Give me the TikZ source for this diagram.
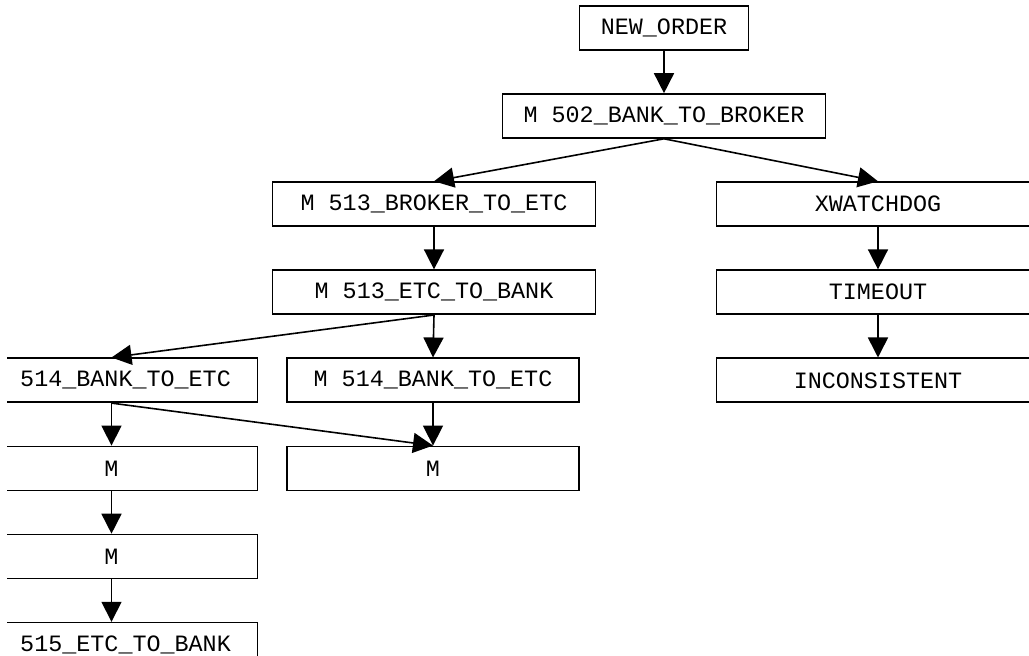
\documentclass[tikz,border=0pt]{standalone}
\usepackage{fontspec}
\usepackage{tikz}
\usetikzlibrary{arrows.meta,positioning}
\newfontfamily\statefont{Liberation Mono}

\begin{document}
\begin{tikzpicture}[
  x=0.5pt,y=-0.5pt,
  state/.style={draw,line width=0.8pt,inner sep=0pt,minimum height=22pt,
                font={\statefont\fontsize{11.7pt}{14pt}\selectfont}},
  wide/.style={state,minimum width=161.5pt},
  narrow/.style={state,minimum width=146pt},
  arr/.style={-{Triangle[length=10pt,width=10pt]},line width=0.8pt},
  node distance=21.25pt
]
\useasboundingbox (0,0) rectangle (1029,656);
\clip (7,0) rectangle (1029,656);
\node[wide] (m502) at (664,116) {M 502\_BANK\_TO\_BROKER};
\node[state,minimum width=84.5pt,above=of m502] (neworder) {NEW\_ORDER};
\node[wide,below=of m502,xshift=-115pt] (m513b) {M 513\_BROKER\_TO\_ETC};
\node[wide,below=of m513b] (m513e) {M 513\_ETC\_TO\_BANK};
\node[wide,below=of m502,xshift=107pt] (watchdog) {XWATCHDOG};
\node[wide,below=of watchdog] (timeout) {TIMEOUT};
\node[wide,below=of timeout] (inconsistent) {INCONSISTENT};
\node[narrow,below=of m513e,xshift=-0.5pt] (m514) {M 514\_BANK\_TO\_ETC};
\node[narrow,below=of m514] (mright) {M};
\node[narrow,below=of m513e,xshift=-161.25pt] (b514) {\hphantom{M\ }514\_BANK\_TO\_ETC};
\node[narrow,below=of b514] (mleft) {M};
\node[narrow,below=of mleft] (mlower) {M};
\node[narrow,below=of mlower] (e515) {\hphantom{M\ }515\_ETC\_TO\_BANK};
\draw[arr] (neworder.south) -- (m502.north);
\draw[arr] (m502.south) -- (m513b.north);
\draw[arr] (m502.south) -- (watchdog.north);
\draw[arr] (m513b.south) -- (m513e.north);
\draw[arr] (m513e.south) -- (b514.north);
\draw[arr] (m513e.south) -- (m514.north);
\draw[arr] (b514.south) -- (mleft.north);
\draw[arr] (b514.south) -- (mright.north);
\draw[arr] (m514.south) -- (mright.north);
\draw[arr] (mleft.south) -- (mlower.north);
\draw[arr] (mlower.south) -- (e515.north);
\draw[arr] (watchdog.south) -- (timeout.north);
\draw[arr] (timeout.south) -- (inconsistent.north);
\end{tikzpicture}
\end{document}
